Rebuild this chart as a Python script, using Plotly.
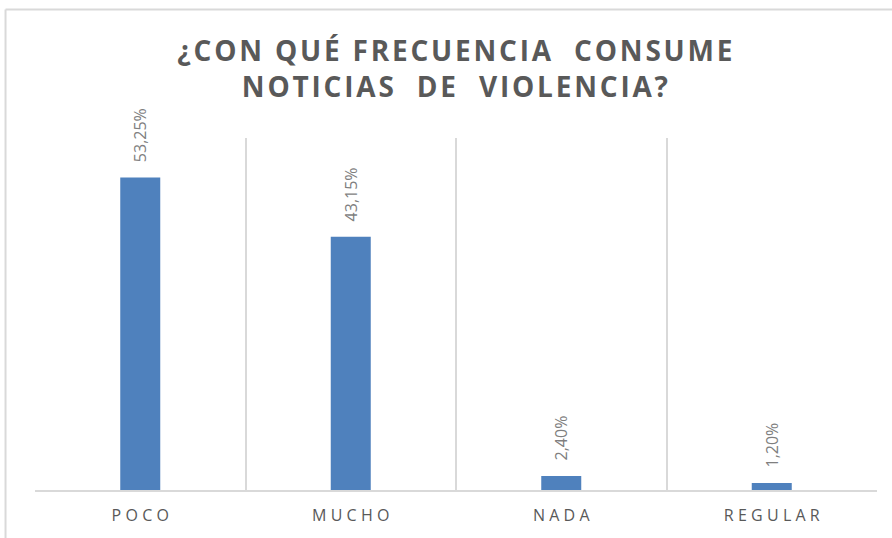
import plotly.graph_objects as go

categorias = ["POCO", "MUCHO", "NADA", "REGULAR"]
porcentajes = [53.25, 43.15, 2.40, 1.20]
etiquetas = ["53,25%", "43,15%", "2,40%", "1,20%"]

HS = "\u200a"  # espacio fino para imitar el espaciado entre letras


def espaciar(texto, sep=HS):
    return sep.join(texto)


ticks = [espaciar(c, "\u2009\u200a") for c in categorias]
textos = ["\u00a0\u00a0\u00a0" + e for e in etiquetas]

fig = go.Figure()
fig.add_trace(go.Bar(
    x=ticks,
    y=porcentajes,
    text=textos,
    textposition="outside",
    textangle=-90,
    constraintext="none",
    textfont=dict(family="Open Sans", size=16, color="#7f7f7f"),
    marker=dict(color="#4f81bd", line=dict(width=0)),
    cliponaxis=False,
))

titulo = espaciar("¿CON QUÉ FRECUENCIA  CONSUME") + "<br>" + espaciar("NOTICIAS  DE  VIOLENCIA?")

fig.update_layout(
    width=892, height=538,
    paper_bgcolor="white", plot_bgcolor="white",
    margin=dict(l=35, r=15, t=138, b=46),
    bargap=0.81,
    showlegend=False,
    title=dict(
        text=titulo,
        x=0.51, xanchor="center",
        y=0.887, yanchor="middle",
        font=dict(family="Open Sans", size=28, color="#595959", weight="bold"),
    ),
    xaxis=dict(
        type="category",
        tickson="boundaries",
        showgrid=True, gridcolor="#d9d9d9", gridwidth=1.5,
        showline=True, linecolor="#d9d9d9", linewidth=1.5,
        ticks="",
        ticklabelstandoff=10,
        tickfont=dict(family="Open Sans", size=16, color="#595959"),
        range=[-0.5, 3.5],
    ),
    yaxis=dict(
        range=[0, 60],
        showgrid=False, zeroline=False, showticklabels=False,
    ),
    shapes=[
        dict(type="line", xref="paper", yref="paper", x0=-0.035, x1=1.02, y0=1.365, y1=1.365,
             line=dict(color="#d9d9d9", width=2)),
        dict(type="line", xref="paper", yref="paper", x0=-0.035, x1=-0.035, y0=-0.2, y1=1.365,
             line=dict(color="#d9d9d9", width=2)),
    ],
)

fig.write_html("out.html", config={"displayModeBar": False},
               post_script="document.body.style.margin='0';")
